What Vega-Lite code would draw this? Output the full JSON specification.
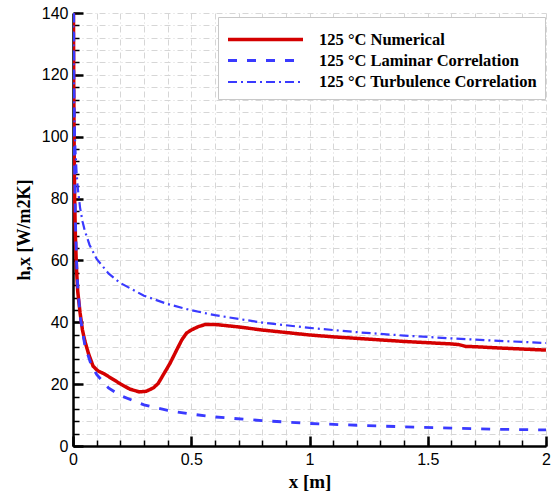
{
  "$schema": "https://vega.github.io/schema/vega-lite/v6.json",
  "autosize": "none",
  "width": 473,
  "height": 433,
  "padding": {"left": 73, "top": 13, "right": 7, "bottom": 46},
  "background": "white",
  "config": {"view": {"stroke": null}},
  "datasets": {
    "curves": [
      {"s": "125 °C Numerical", "x": 0.0015, "h": 150},
      {"s": "125 °C Numerical", "x": 0.003, "h": 118},
      {"s": "125 °C Numerical", "x": 0.005, "h": 95},
      {"s": "125 °C Numerical", "x": 0.007, "h": 80},
      {"s": "125 °C Numerical", "x": 0.01, "h": 68},
      {"s": "125 °C Numerical", "x": 0.015, "h": 57},
      {"s": "125 °C Numerical", "x": 0.02, "h": 50},
      {"s": "125 °C Numerical", "x": 0.03, "h": 43},
      {"s": "125 °C Numerical", "x": 0.04, "h": 37.5},
      {"s": "125 °C Numerical", "x": 0.05, "h": 34},
      {"s": "125 °C Numerical", "x": 0.065, "h": 30},
      {"s": "125 °C Numerical", "x": 0.085, "h": 25.8},
      {"s": "125 °C Numerical", "x": 0.105, "h": 24.3},
      {"s": "125 °C Numerical", "x": 0.13, "h": 23.4},
      {"s": "125 °C Numerical", "x": 0.16, "h": 22.0},
      {"s": "125 °C Numerical", "x": 0.2, "h": 20.1},
      {"s": "125 °C Numerical", "x": 0.24, "h": 18.4},
      {"s": "125 °C Numerical", "x": 0.28, "h": 17.5},
      {"s": "125 °C Numerical", "x": 0.31, "h": 17.7},
      {"s": "125 °C Numerical", "x": 0.34, "h": 18.8},
      {"s": "125 °C Numerical", "x": 0.36, "h": 20.2},
      {"s": "125 °C Numerical", "x": 0.38, "h": 22.8},
      {"s": "125 °C Numerical", "x": 0.41, "h": 26.7},
      {"s": "125 °C Numerical", "x": 0.44, "h": 31.3},
      {"s": "125 °C Numerical", "x": 0.46, "h": 34.3},
      {"s": "125 °C Numerical", "x": 0.48, "h": 36.5},
      {"s": "125 °C Numerical", "x": 0.5, "h": 37.5},
      {"s": "125 °C Numerical", "x": 0.53, "h": 38.6},
      {"s": "125 °C Numerical", "x": 0.56, "h": 39.3},
      {"s": "125 °C Numerical", "x": 0.6, "h": 39.3},
      {"s": "125 °C Numerical", "x": 0.7, "h": 38.5},
      {"s": "125 °C Numerical", "x": 0.8, "h": 37.5},
      {"s": "125 °C Numerical", "x": 0.9, "h": 36.7},
      {"s": "125 °C Numerical", "x": 1.0, "h": 35.9},
      {"s": "125 °C Numerical", "x": 1.1, "h": 35.3},
      {"s": "125 °C Numerical", "x": 1.2, "h": 34.8},
      {"s": "125 °C Numerical", "x": 1.3, "h": 34.3},
      {"s": "125 °C Numerical", "x": 1.4, "h": 33.8},
      {"s": "125 °C Numerical", "x": 1.5, "h": 33.4},
      {"s": "125 °C Numerical", "x": 1.6, "h": 33.0},
      {"s": "125 °C Numerical", "x": 1.63, "h": 32.8},
      {"s": "125 °C Numerical", "x": 1.66, "h": 32.2},
      {"s": "125 °C Numerical", "x": 1.7, "h": 32.1},
      {"s": "125 °C Numerical", "x": 1.8, "h": 31.7},
      {"s": "125 °C Numerical", "x": 1.9, "h": 31.35},
      {"s": "125 °C Numerical", "x": 2.0, "h": 31.0},
      {"s": "125 °C Laminar Correlation", "x": 0.0025, "h": 146},
      {"s": "125 °C Laminar Correlation", "x": 0.004, "h": 115},
      {"s": "125 °C Laminar Correlation", "x": 0.006, "h": 94},
      {"s": "125 °C Laminar Correlation", "x": 0.01, "h": 73},
      {"s": "125 °C Laminar Correlation", "x": 0.015, "h": 59.6},
      {"s": "125 °C Laminar Correlation", "x": 0.02, "h": 51.6},
      {"s": "125 °C Laminar Correlation", "x": 0.03, "h": 42.1},
      {"s": "125 °C Laminar Correlation", "x": 0.05, "h": 32.6},
      {"s": "125 °C Laminar Correlation", "x": 0.075, "h": 26.7},
      {"s": "125 °C Laminar Correlation", "x": 0.1, "h": 23.1},
      {"s": "125 °C Laminar Correlation", "x": 0.15, "h": 18.8},
      {"s": "125 °C Laminar Correlation", "x": 0.2, "h": 16.3},
      {"s": "125 °C Laminar Correlation", "x": 0.3, "h": 13.3},
      {"s": "125 °C Laminar Correlation", "x": 0.4, "h": 11.5},
      {"s": "125 °C Laminar Correlation", "x": 0.5, "h": 10.3},
      {"s": "125 °C Laminar Correlation", "x": 0.6, "h": 9.4},
      {"s": "125 °C Laminar Correlation", "x": 0.8, "h": 8.2},
      {"s": "125 °C Laminar Correlation", "x": 1.0, "h": 7.3},
      {"s": "125 °C Laminar Correlation", "x": 1.2, "h": 6.7},
      {"s": "125 °C Laminar Correlation", "x": 1.4, "h": 6.2},
      {"s": "125 °C Laminar Correlation", "x": 1.6, "h": 5.8},
      {"s": "125 °C Laminar Correlation", "x": 1.8, "h": 5.4},
      {"s": "125 °C Laminar Correlation", "x": 2.0, "h": 5.2},
      {"s": "125 °C Turbulence Correlation", "x": 0.0015, "h": 140.2},
      {"s": "125 °C Turbulence Correlation", "x": 0.002, "h": 132.4},
      {"s": "125 °C Turbulence Correlation", "x": 0.003, "h": 122.1},
      {"s": "125 °C Turbulence Correlation", "x": 0.005, "h": 110.2},
      {"s": "125 °C Turbulence Correlation", "x": 0.0075, "h": 101.6},
      {"s": "125 °C Turbulence Correlation", "x": 0.01, "h": 96.0},
      {"s": "125 °C Turbulence Correlation", "x": 0.015, "h": 88.5},
      {"s": "125 °C Turbulence Correlation", "x": 0.02, "h": 83.5},
      {"s": "125 °C Turbulence Correlation", "x": 0.03, "h": 77.0},
      {"s": "125 °C Turbulence Correlation", "x": 0.04, "h": 72.7},
      {"s": "125 °C Turbulence Correlation", "x": 0.05, "h": 69.6},
      {"s": "125 °C Turbulence Correlation", "x": 0.07, "h": 65.0},
      {"s": "125 °C Turbulence Correlation", "x": 0.1, "h": 60.5},
      {"s": "125 °C Turbulence Correlation", "x": 0.15, "h": 55.8},
      {"s": "125 °C Turbulence Correlation", "x": 0.2, "h": 52.7},
      {"s": "125 °C Turbulence Correlation", "x": 0.3, "h": 48.6},
      {"s": "125 °C Turbulence Correlation", "x": 0.4, "h": 45.9},
      {"s": "125 °C Turbulence Correlation", "x": 0.5, "h": 43.9},
      {"s": "125 °C Turbulence Correlation", "x": 0.6, "h": 42.3},
      {"s": "125 °C Turbulence Correlation", "x": 0.8, "h": 39.9},
      {"s": "125 °C Turbulence Correlation", "x": 1.0, "h": 38.2},
      {"s": "125 °C Turbulence Correlation", "x": 1.2, "h": 36.8},
      {"s": "125 °C Turbulence Correlation", "x": 1.4, "h": 35.7},
      {"s": "125 °C Turbulence Correlation", "x": 1.6, "h": 34.8},
      {"s": "125 °C Turbulence Correlation", "x": 1.8, "h": 34.0},
      {"s": "125 °C Turbulence Correlation", "x": 2.0, "h": 33.3}
    ]
  },
  "data": {"name": "curves"},
  "resolve": {"axis": {"x": "independent", "y": "independent"}},
  "layer": [
    {
      "mark": {"type": "point", "opacity": 0},
      "encoding": {
        "x": {
          "field": "x", "type": "quantitative",
          "scale": {"domain": [0, 2], "nice": false, "zero": false},
          "axis": {
            "orient": "bottom",
            "values": [0,0.1,0.2,0.3,0.4,0.5,0.6,0.7,0.8,0.9,1,1.1,1.2,1.3,1.4,1.5,1.6,1.7,1.8,1.9,2],
            "grid": true, "gridColor": "#d6d6d6", "gridDash": [6,3,1,3], "gridWidth": 1,
            "labels": false, "domain": false, "title": null,
            "ticks": true, "tickSize": -6, "tickColor": "black", "tickWidth": 1.5
          }
        },
        "y": {
          "field": "h", "type": "quantitative",
          "scale": {"domain": [0, 140], "nice": false, "zero": false},
          "axis": {
            "orient": "left",
            "values": [0,4,8,12,16,20,24,28,32,36,40,44,48,52,56,60,64,68,72,76,80,84,88,92,96,100,104,108,112,116,120,124,128,132,136,140],
            "grid": true, "gridColor": "#d6d6d6", "gridDash": [6,3,1,3], "gridWidth": 1,
            "labels": false, "domain": false, "title": null,
            "ticks": true, "tickSize": -6, "tickColor": "black", "tickWidth": 1.5
          }
        }
      }
    },
    {
      "mark": {"type": "line", "clip": true},
      "encoding": {
        "x": {
          "field": "x", "type": "quantitative",
          "scale": {"domain": [0, 2], "nice": false, "zero": false},
          "axis": {
            "orient": "bottom",
            "values": [0, 0.5, 1, 1.5, 2],
            "format": "~g",
            "grid": false,
            "domainColor": "black", "domainWidth": 2.5,
            "tickSize": -10, "tickColor": "black", "tickWidth": 2.5,
            "labelFont": "Liberation Sans", "labelFontSize": 16, "labelColor": "black",
            "labelPadding": 15, "labelFlush": false,
            "title": "x [m]", "titleFont": "Liberation Serif", "titleFontSize": 19,
            "titleFontWeight": "bold", "titleColor": "black", "titlePadding": 5
          }
        },
        "y": {
          "field": "h", "type": "quantitative",
          "scale": {"domain": [0, 140], "nice": false, "zero": false},
          "axis": {
            "orient": "left",
            "values": [0, 20, 40, 60, 80, 100, 120, 140],
            "grid": false,
            "domainColor": "black", "domainWidth": 2.5,
            "tickSize": -10, "tickColor": "black", "tickWidth": 2.5,
            "labelFont": "Liberation Sans", "labelFontSize": 16, "labelColor": "black",
            "labelPadding": 15, "labelFlush": false,
            "title": "h,x [W/m2K]", "titleFont": "Liberation Serif", "titleFontSize": 18,
            "titleFontWeight": "bold", "titleColor": "black", "titlePadding": 8
          }
        },
        "color": {
          "field": "s", "type": "nominal",
          "scale": {
            "domain": ["125 °C Numerical", "125 °C Laminar Correlation", "125 °C Turbulence Correlation"],
            "range": ["#d40000", "#3a3aff", "#3a3aff"]
          },
          "legend": {
            "orient": "none", "legendX": 145, "legendY": 4,
            "title": " ", "titleFontSize": 5, "titlePadding": 0,
            "symbolType": "M-1,0H9", "symbolSize": 225,
            "labelFont": "Liberation Serif", "labelFontSize": 16.5, "labelFontWeight": "bold",
            "labelColor": "black", "labelOffset": 74, "labelLimit": 400,
            "strokeColor": "#c8c8c8", "fillColor": "white",
            "padding": 8, "rowPadding": 3.5
          }
        },
        "strokeDash": {
          "field": "s", "type": "nominal",
          "scale": {
            "domain": ["125 °C Numerical", "125 °C Laminar Correlation", "125 °C Turbulence Correlation"],
            "range": [[1, 0], [9, 10], [9, 4, 2, 4]]
          }
        },
        "strokeWidth": {
          "field": "s", "type": "nominal",
          "scale": {
            "domain": ["125 °C Numerical", "125 °C Laminar Correlation", "125 °C Turbulence Correlation"],
            "range": [3.5, 2.2, 1.9]
          }
        },
        "order": {"field": "x", "type": "quantitative"}
      }
    }
  ]
}
